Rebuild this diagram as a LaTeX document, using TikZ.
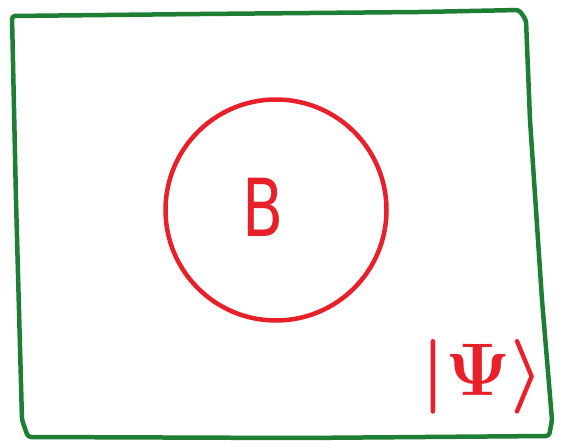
\documentclass[tikz,border=0pt]{standalone}
\usepackage{fontspec}
\setsansfont{DejaVu Sans}
\begin{document}
\begin{tikzpicture}[x=1pt,y=-1pt,
  frame/.style={draw=boxgreen,line width=4.5pt,line join=round,rounded corners=3pt},
  ring/.style={draw=inkred,line width=4.5pt,circle,minimum size=221pt,inner sep=0pt},
  label/.style={text=inkred,inner sep=0pt}]
\definecolor{boxgreen}{HTML}{1E7E34}
\definecolor{inkred}{HTML}{E8202A}
\useasboundingbox (0,0) rectangle (561,446);
\draw[frame] (12,16) -- (200,14) -- (420,12) -- (519,10) -- (526,20) -- (530,120) -- (542,300) -- (552,420) -- (549,436) -- (300,438) -- (28,437) -- (22,420) -- (16,200) -- cycle;
\node[ring] (B) at (276,210) {};
\node[label,font=\sffamily\fontsize{80}{80}\selectfont,xscale=0.75] (Btext) at (263,207) {B};
\node[label,font=\Huge\boldmath,scale=3.0] (psi) at (483,377) {$|\Psi\rangle$};
\end{tikzpicture}
\end{document}
